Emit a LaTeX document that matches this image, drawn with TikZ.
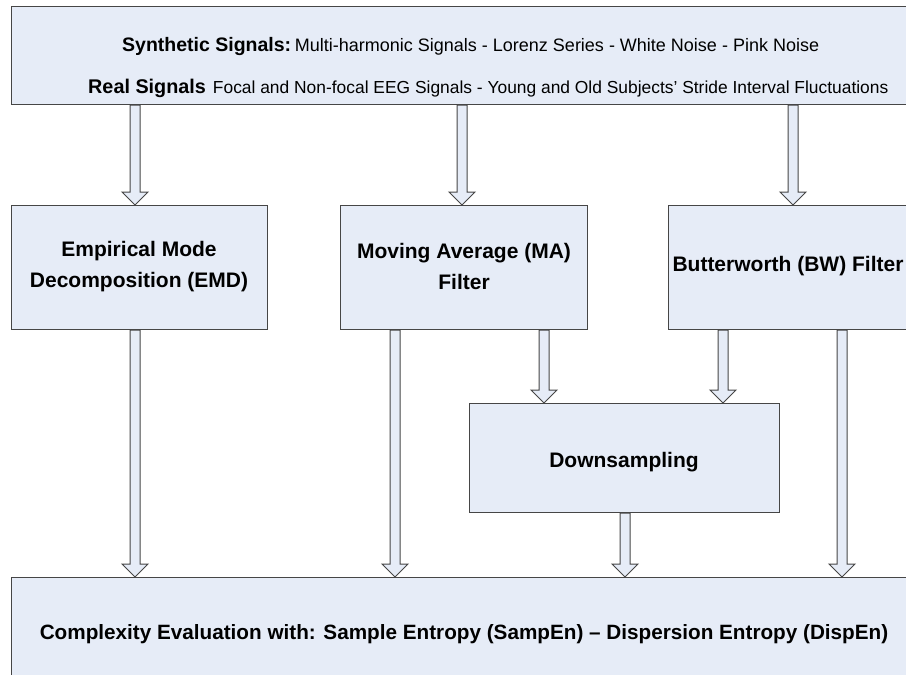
\documentclass[tikz,border=0pt]{standalone}
\usepackage{fontspec}
\setmainfont{Liberation Sans}
\usetikzlibrary{calc}
\definecolor{boxfill}{RGB}{230,236,247}
\definecolor{boxline}{RGB}{70,70,70}
\tikzset{
  box/.style={draw=boxline, line width=1.2pt, fill=boxfill, inner sep=0pt, anchor=north west},
  lbl/.style={font=\fontsize{21}{31}\selectfont\bfseries, align=center, inner sep=0pt},
  toptxt/.style={inner sep=0pt, anchor=west},
  barr/.style={draw=boxline, line width=1pt, fill=boxfill, line join=miter}
}
\newcommand{\barrow}[3]{%
  \draw[barr] let \p1=(#2.south), \p2=(#3.north) in
    ({(#1-5)*1pt},\y1) -- ({(#1-5)*1pt},\y2+13pt) -- ({(#1-13)*1pt},\y2+13pt) --
    ({#1*1pt},\y2) -- ({(#1+13)*1pt},\y2+13pt) -- ({(#1+5)*1pt},\y2+13pt) --
    ({(#1+5)*1pt},\y1) -- cycle;}
\begin{document}
\begin{tikzpicture}[x=1pt,y=-1pt]
\useasboundingbox (0,0) rectangle (906,675);
% boxes
\node[box, minimum width=920pt, minimum height=98pt] (top) at (11,6) {};
\node[box, minimum width=256pt, minimum height=124pt] (emd) at (11,205) {};
\node[box, minimum width=247pt, minimum height=124pt] (ma) at (340,205) {};
\node[box, minimum width=240pt, minimum height=124pt] (bw) at (668,205) {};
\node[box, minimum width=310pt, minimum height=109pt] (down) at (469,403) {};
\node[box, minimum width=910pt, minimum height=120pt] (bot) at (11,577) {};
% labels
\node[toptxt] (t1) at (122,46) {{\fontsize{19.5}{23}\selectfont\bfseries Synthetic Signals:} {\fontsize{18}{22}\selectfont Multi-harmonic Signals - Lorenz Series - White Noise - Pink Noise}};
\node[toptxt] (t2) at (88,88) {{\fontsize{19.8}{23}\selectfont\bfseries Real Signals}\hspace{7pt}{\fontsize{17.4}{22}\selectfont Focal and Non-focal EEG Signals - Young and Old Subjects’ Stride Interval Fluctuations}};
\node[lbl] (emdl) at (139,267) {Empirical Mode\\Decomposition (EMD)};
\node[lbl] (mal) at (464,266) {Moving Average (MA)\\Filter};
\node[lbl] (bwl) at (788,266) {Butterworth (BW) Filter};
\node[lbl] (downl) at (624,462) {Downsampling};
\node[lbl, font=\fontsize{20.7}{25}\selectfont\bfseries] (botl) at (464,634) {Complexity Evaluation with: Sample Entropy (SampEn) – Dispersion Entropy (DispEn)};
% arrows
\barrow{135}{top}{emd}
\barrow{462}{top}{ma}
\barrow{793}{top}{bw}
\barrow{135}{emd}{bot}
\barrow{395}{ma}{bot}
\barrow{544}{ma}{down}
\barrow{723}{bw}{down}
\barrow{625}{down}{bot}
\barrow{842}{bw}{bot}
\end{tikzpicture}
\end{document}
